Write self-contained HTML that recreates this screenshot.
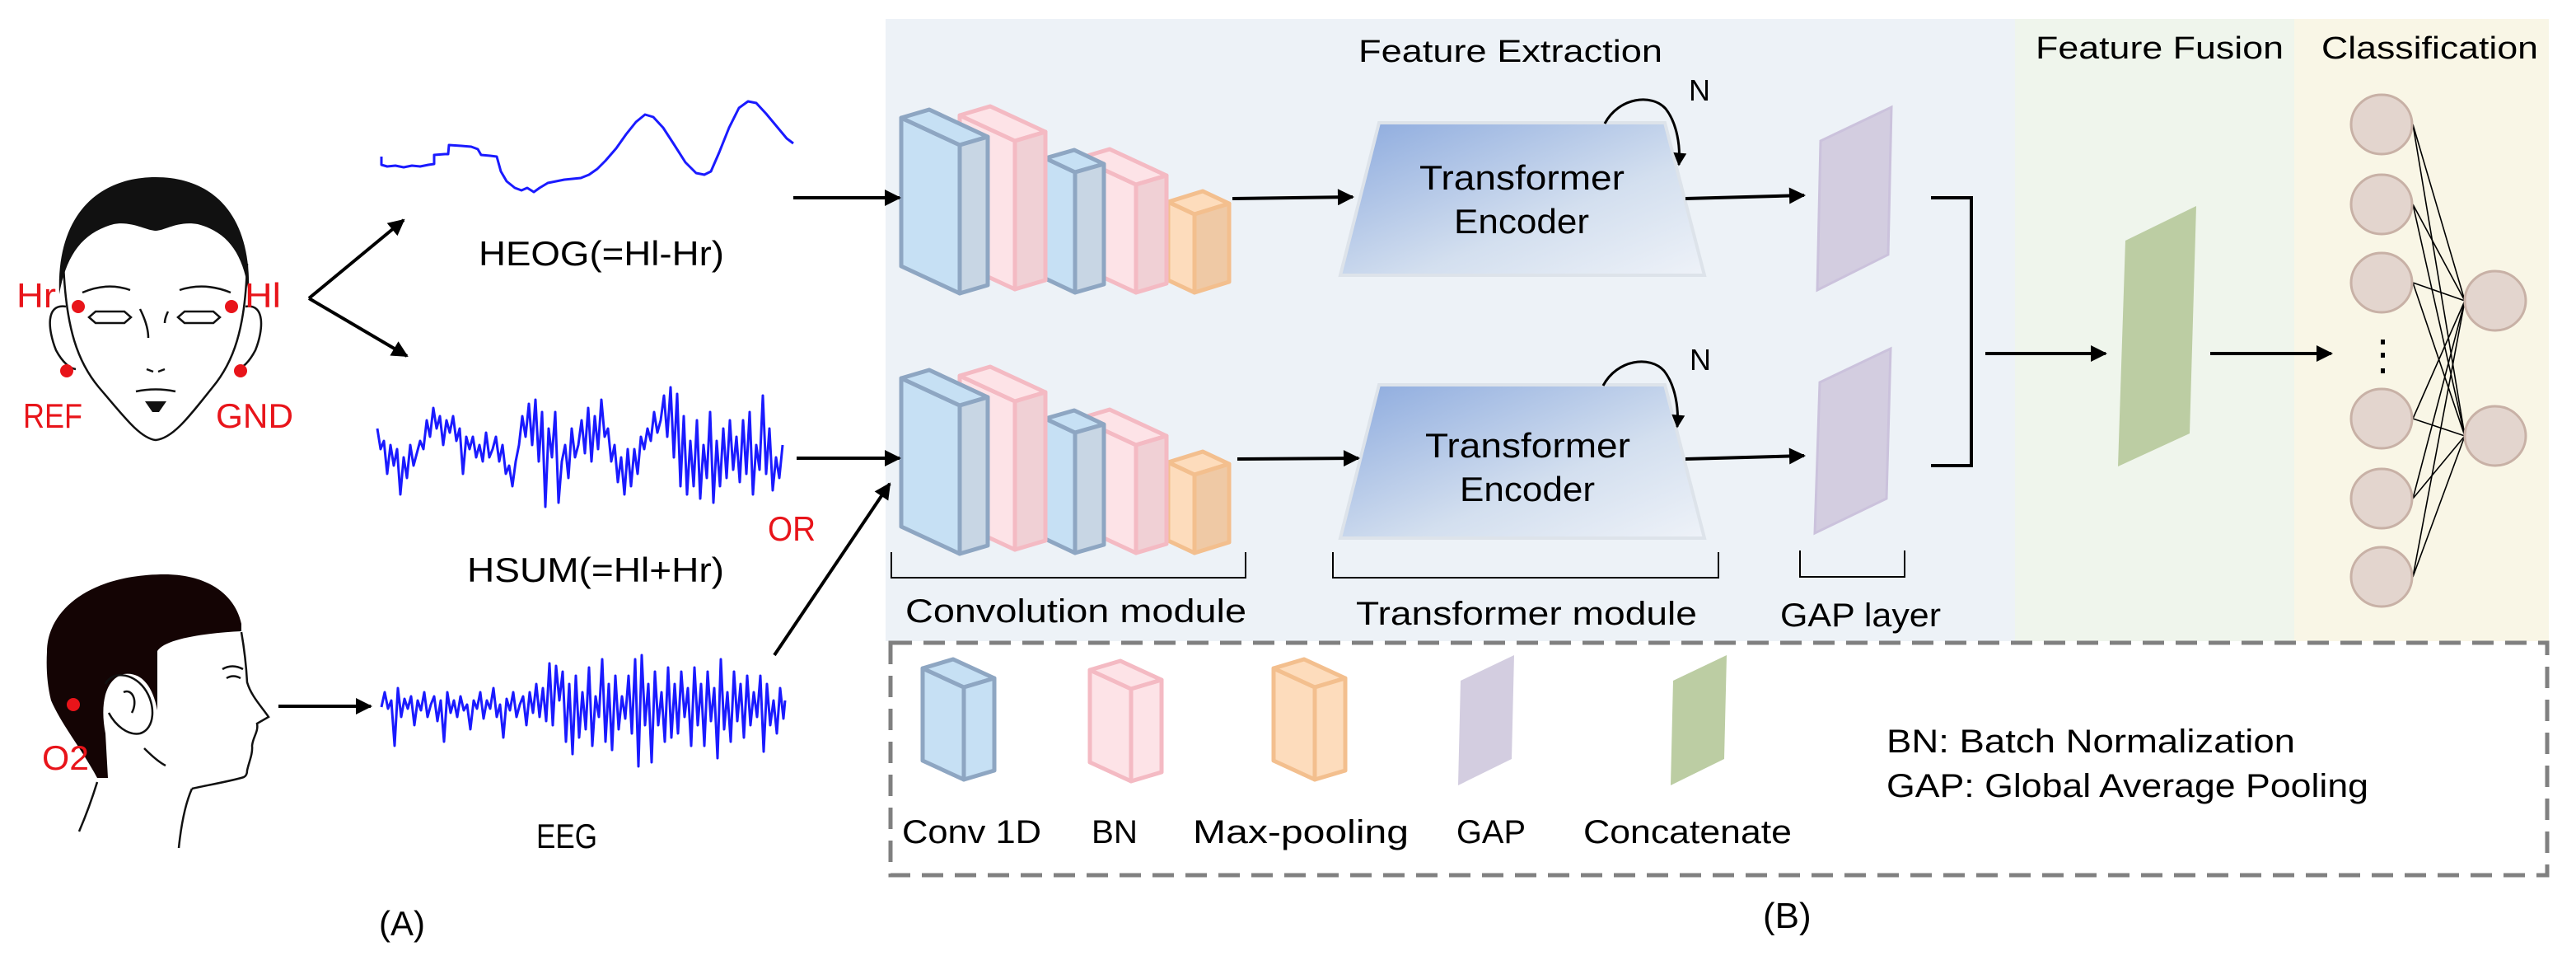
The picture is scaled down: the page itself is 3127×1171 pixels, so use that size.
<!DOCTYPE html>
<html><head><meta charset="utf-8"><style>
html,body{margin:0;padding:0;background:#fff}
svg{display:block}
text{font-family:"Liberation Sans",sans-serif}
</style></head><body>
<svg width="3127" height="1171" viewBox="0 0 3127 1171" xmlns="http://www.w3.org/2000/svg">
<defs>
<marker id="ah" viewBox="0 0 10 10" refX="9" refY="5" markerUnits="userSpaceOnUse" markerWidth="24" markerHeight="20" orient="auto"><path d="M0,0 L10,5 L0,10 Z" fill="#000"/></marker>
<marker id="ahs" viewBox="0 0 10 10" refX="9" refY="5" markerUnits="userSpaceOnUse" markerWidth="18" markerHeight="16" orient="auto"><path d="M0,0 L10,5 L0,10 Z" fill="#000"/></marker>
<linearGradient id="tg" x1="0" y1="0" x2="1" y2="1"><stop offset="0" stop-color="#8caade"/><stop offset="0.6" stop-color="#d3dfef"/><stop offset="1" stop-color="#eef2f8"/></linearGradient>
<g id="conv" stroke-linejoin="round" stroke-width="5">
 <g fill="#fddcbc" stroke="#f3bf8e"><polygon points="1418,245 1450,260 1450,355 1418,340"/><polygon points="1418,245 1460,232 1492,247 1450,260"/><polygon points="1450,260 1492,247 1492,342 1450,355" fill="#efc9a5"/></g>
 <g fill="#fde3e7" stroke="#f4bac3"><polygon points="1310,192 1379,224 1379,355 1310,323"/><polygon points="1310,192 1347,181 1416,213 1379,224"/><polygon points="1379,224 1416,213 1416,344 1379,355" fill="#f0d0d5"/></g>
 <g fill="#c6e0f4" stroke="#8ea6c2"><polygon points="1269,192 1305,209 1305,355 1269,338"/><polygon points="1269,192 1304,182 1340,199 1305,209"/><polygon points="1305,209 1340,199 1340,345 1305,355" fill="#c8d6e4"/></g>
 <g fill="#fde3e7" stroke="#f4bac3"><polygon points="1165,140 1232,171 1232,351 1165,320"/><polygon points="1165,140 1202,129 1269,160 1232,171"/><polygon points="1232,171 1269,160 1269,340 1232,351" fill="#f0d0d5"/></g>
 <g fill="#c6e0f4" stroke="#8ea6c2"><polygon points="1094,143 1165,176 1165,356 1094,323"/><polygon points="1094,143 1128,133 1199,166 1165,176"/><polygon points="1165,176 1199,166 1199,346 1165,356" fill="#c8d6e4"/></g>
</g>
<g id="lbox" stroke-linejoin="round" stroke-width="5"><polygon points="1120,811 1170,834 1170,946 1120,923"/><polygon points="1120,811 1157,800 1207,823 1170,834"/><polygon points="1170,834 1207,823 1207,935 1170,946"/></g>
</defs>

<rect x="1075" y="23" width="1371" height="755" fill="#edf2f7"/>
<rect x="2446" y="23" width="339" height="755" fill="#eff5ec"/>
<rect x="2785" y="23" width="309" height="755" fill="#f9f6e6"/>

<text x="1649" y="75" font-size="38" textLength="369" lengthAdjust="spacingAndGlyphs">Feature Extraction</text>
<text x="2471" y="71" font-size="38" textLength="301" lengthAdjust="spacingAndGlyphs">Feature  Fusion</text>
<text x="2818" y="71" font-size="38" textLength="263" lengthAdjust="spacingAndGlyphs">Classification</text>

<use href="#conv"/>
<use href="#conv" y="316"/>

<polygon points="1674,149 2021,149 2069,334 1627,334" fill="url(#tg)" stroke="#dde3ea" stroke-width="4"/>
<polygon points="1674,467 2021,467 2069,653 1627,653" fill="url(#tg)" stroke="#dde3ea" stroke-width="4"/>
<text x="1723" y="230" font-size="42" textLength="249" lengthAdjust="spacingAndGlyphs">Transformer</text>
<text x="1765" y="283" font-size="42" textLength="164" lengthAdjust="spacingAndGlyphs">Encoder</text>
<text x="1730" y="555" font-size="42" textLength="249" lengthAdjust="spacingAndGlyphs">Transformer</text>
<text x="1772" y="608" font-size="42" textLength="164" lengthAdjust="spacingAndGlyphs">Encoder</text>
<path d="M1948,150 C1965,118 2005,113 2022,132 C2036,150 2040,178 2038,200" fill="none" stroke="#000" stroke-width="3" marker-end="url(#ahs)"/>
<path d="M1946,468 C1963,436 2003,431 2020,450 C2034,468 2038,496 2036,518" fill="none" stroke="#000" stroke-width="3" marker-end="url(#ahs)"/>
<text x="2050" y="122" font-size="36" font-family="Liberation Serif,serif">N</text>
<text x="2051" y="449" font-size="36" font-family="Liberation Serif,serif">N</text>

<polygon points="2210,171 2296,130 2292,309 2206,352" fill="#d3cde0" stroke="#cbc2dc" stroke-width="3"/>
<polygon points="2209,464 2295,423 2290,605 2203,647" fill="#d3cde0" stroke="#cbc2dc" stroke-width="3"/>
<path d="M2344,240 H2393 V565 H2344" fill="none" stroke="#000" stroke-width="4"/>
<polygon points="2580,292 2666,250 2658,526 2571,566" fill="#bccda3"/>

<g stroke="#000" stroke-width="1.6">
<line x1="2929" y1="151" x2="2992" y2="365"/><line x1="2929" y1="151" x2="2992" y2="529"/>
<line x1="2929" y1="248" x2="2992" y2="365"/><line x1="2929" y1="248" x2="2992" y2="529"/>
<line x1="2929" y1="343" x2="2992" y2="365"/><line x1="2929" y1="343" x2="2992" y2="529"/>
<line x1="2929" y1="508" x2="2992" y2="365"/><line x1="2929" y1="508" x2="2992" y2="529"/>
<line x1="2929" y1="605" x2="2992" y2="365"/><line x1="2929" y1="605" x2="2992" y2="529"/>
<line x1="2929" y1="700" x2="2992" y2="365"/><line x1="2929" y1="700" x2="2992" y2="529"/>
</g>
<g fill="#e3d5ce" stroke="#c8b1a6" stroke-width="3">
<ellipse cx="2891" cy="151" rx="37" ry="36"/><ellipse cx="2891" cy="248" rx="37" ry="36"/><ellipse cx="2891" cy="343" rx="37" ry="36"/>
<ellipse cx="2891" cy="508" rx="37" ry="36"/><ellipse cx="2891" cy="605" rx="37" ry="36"/><ellipse cx="2891" cy="700" rx="37" ry="36"/>
<ellipse cx="3029" cy="365" rx="37" ry="36"/><ellipse cx="3029" cy="529" rx="37" ry="36"/>
</g>
<g fill="#000"><rect x="2890" y="412" width="5" height="6"/><rect x="2890" y="428" width="5" height="6"/><rect x="2890" y="447" width="5" height="6"/></g>

<g fill="none" stroke="#000" stroke-width="2">
<path d="M1082,670 V701 H1512 V670"/><path d="M1618,670 V701 H2086 V670"/><path d="M2185,668 V700 H2312 V668"/>
</g>
<text x="1099" y="755" font-size="40" textLength="414" lengthAdjust="spacingAndGlyphs">Convolution module</text>
<text x="1646" y="758" font-size="40" textLength="414" lengthAdjust="spacingAndGlyphs">Transformer module</text>
<text x="2161" y="760" font-size="40" textLength="195" lengthAdjust="spacingAndGlyphs">GAP layer</text>

<g stroke="#000" stroke-width="4" fill="none" marker-end="url(#ah)">
<line x1="375" y1="362" x2="490" y2="267"/>
<line x1="375" y1="362" x2="494" y2="432"/>
<line x1="338" y1="857" x2="450" y2="857"/>
<line x1="963" y1="240" x2="1092" y2="240"/>
<line x1="967" y1="556" x2="1092" y2="556"/>
<line x1="940" y1="795" x2="1080" y2="587"/>
<line x1="1496" y1="241" x2="1642" y2="239"/>
<line x1="1502" y1="557" x2="1649" y2="556"/>
<line x1="2046" y1="241" x2="2190" y2="237"/>
<line x1="2046" y1="557" x2="2190" y2="553"/>
<line x1="2410" y1="429" x2="2556" y2="429"/>
<line x1="2683" y1="429" x2="2830" y2="429"/>
</g>

<rect x="1081" y="780" width="2011" height="282" fill="none" stroke="#808080" stroke-width="5" stroke-dasharray="26 14"/>
<use href="#lbox" fill="#c6e0f4" stroke="#8ea6c2"/>
<use href="#lbox" x="203" y="2" fill="#fde3e7" stroke="#f4bac3"/>
<use href="#lbox" x="426" fill="#fddcbc" stroke="#f3bf8e"/>
<polygon points="1773,826 1838,795 1835,921 1770,953" fill="#d3cde0"/>
<polygon points="2031,826 2096,795 2093,921 2028,953" fill="#bccda3"/>
<g font-size="40">
<text x="1095" y="1023" textLength="169" lengthAdjust="spacingAndGlyphs">Conv 1D</text>
<text x="1325" y="1023" textLength="56" lengthAdjust="spacingAndGlyphs">BN</text>
<text x="1448" y="1023" textLength="262" lengthAdjust="spacingAndGlyphs">Max-pooling</text>
<text x="1768" y="1023" textLength="84" lengthAdjust="spacingAndGlyphs">GAP</text>
<text x="1922" y="1023" textLength="253" lengthAdjust="spacingAndGlyphs">Concatenate</text>
<text x="2290" y="913" textLength="496" lengthAdjust="spacingAndGlyphs">BN: Batch Normalization</text>
<text x="2290" y="967" textLength="585" lengthAdjust="spacingAndGlyphs">GAP: Global Average Pooling</text>
<text x="2140" y="1126" font-size="44">(B)</text>
</g>

<g fill="none" stroke="#1a1aff" stroke-width="3" stroke-linejoin="round">
<polyline points="463,190 463,200 470,202 480,201 490,203 500,201 510,202 520,200 527,199 527,188 540,187 544,187 545,176 560,177 572,178 580,181 584,188 595,189 603,190 608,208 615,220 625,228 633,231 640,228 648,233 655,228 665,222 675,220 685,218 695,217 705,216 715,212 725,205 735,195 748,180 760,163 772,148 783,139 793,142 805,155 818,175 832,197 845,210 855,212 863,208 873,185 885,155 897,131 908,123 918,125 930,138 945,156 955,168 963,174"/>
<polyline points="458,520 462,545 466,535 470,575 474,540 478,565 482,545 486,600 490,555 494,580 498,540 502,565 506,550 510,535 514,545 518,510 522,530 526,495 530,520 534,505 538,540 542,510 546,525 550,505 554,535 558,520 562,575 566,530 570,545 574,530 578,555 582,540 586,560 590,525 594,555 598,545 602,530 606,560 610,540 614,575 618,565 622,590 626,560 630,540 634,505 638,530 642,490 646,540 650,485 654,560 658,500 662,615 666,520 670,555 674,500 678,610 682,560 686,540 690,580 694,520 698,555 702,540 706,510 710,550 714,495 718,560 722,505 726,545 730,485 734,530 738,520 742,560 746,540 750,585 754,555 758,600 762,545 766,590 770,545 774,575 778,530 782,545 786,520 790,535 794,500 798,525 802,510 806,480 810,530 814,470 818,555 822,478 826,590 830,505 834,600 838,535 842,590 846,510 850,605 854,540 858,580 862,500 866,610 870,535 874,590 878,520 882,580 886,510 890,570 894,530 898,585 902,510 906,575 910,500 914,600 918,540 922,570 926,480 930,575 934,520 938,595 942,555 946,580 950,540"/>
<polyline points="463,858 467,840 471,860 475,850 479,905 483,835 487,870 491,848 495,860 499,845 503,880 507,850 511,862 515,840 519,870 523,855 527,845 531,875 535,850 539,900 543,840 547,865 551,850 555,870 559,845 563,862 567,855 571,885 575,850 579,860 583,840 587,872 591,850 595,860 599,835 603,870 607,855 611,895 615,848 619,862 623,840 627,870 631,855 635,845 639,880 643,840 647,865 651,830 655,870 659,835 663,875 667,805 671,880 675,808 679,850 683,815 687,900 691,830 695,915 699,820 703,895 707,840 711,885 715,810 719,905 723,845 727,870 731,800 735,900 739,830 743,910 747,820 751,885 755,845 759,872 763,820 767,890 771,800 775,930 779,795 783,880 787,830 791,925 795,815 799,880 803,840 807,900 811,810 815,895 819,830 823,890 827,815 831,870 835,835 839,905 843,810 847,880 851,830 855,905 859,815 863,875 867,835 871,920 875,800 879,885 883,840 887,900 891,815 895,875 899,830 903,895 907,820 911,880 915,840 919,870 923,820 927,912 931,830 935,880 939,850 943,890 947,835 951,872 953,850"/>
</g>
<g font-size="42">
<text x="581" y="322" textLength="298" lengthAdjust="spacingAndGlyphs">HEOG(=Hl-Hr)</text>
<text x="567" y="706" textLength="312" lengthAdjust="spacingAndGlyphs">HSUM(=Hl+Hr)</text>
<text x="651" y="1029" textLength="74" lengthAdjust="spacingAndGlyphs">EEG</text>
<text x="932" y="656" fill="#e8141a" textLength="58" lengthAdjust="spacingAndGlyphs">OR</text>
</g>
<text x="460" y="1135" font-size="42">(A)</text>

<g fill="none" stroke="#111" stroke-width="2.5">
<path d="M77,320 C80,400 95,440 120,470 C150,505 170,532 189,534 C210,532 230,505 258,470 C283,440 298,400 300,320"/>
<path d="M80,372 C55,368 58,400 68,425 C76,440 85,447 92,448"/>
<path d="M298,372 C322,368 320,400 310,425 C302,440 294,447 287,448"/>
<path d="M100,355 Q130,342 158,352"/><path d="M218,352 Q248,342 280,355"/>
<polygon points="108,385 116,378 151,378 159,385 151,392 116,392"/>
<polygon points="216,385 224,378 259,378 267,385 259,392 224,392"/>
<path d="M170,375 Q180,395 180,410"/><path d="M204,378 Q200,386 200,392"/>
<path d="M178,448 L186,451 M192,451 L200,448"/>
<path d="M165,475 Q189,470 213,475"/>
</g>
<path d="M72,357 C68,260 120,215 189,215 C258,215 306,260 302,357 C296,310 278,282 240,272 C215,268 200,280 189,280 C178,280 160,268 138,272 C100,282 80,310 72,357 Z" fill="#111"/>
<path d="M176,487 L202,487 L193,500 L185,500 Z" fill="#111"/>
<g fill="#e8141a">
<circle cx="95" cy="372" r="8"/><circle cx="281" cy="372" r="8"/><circle cx="81" cy="450" r="8"/><circle cx="292" cy="450" r="8"/>
</g>
<g fill="#e8141a" font-size="42">
<text x="20" y="373" textLength="48" lengthAdjust="spacingAndGlyphs">Hr</text>
<text x="297" y="373" textLength="44" lengthAdjust="spacingAndGlyphs">Hl</text>
<text x="28" y="519" textLength="72" lengthAdjust="spacingAndGlyphs">REF</text>
<text x="262" y="519" textLength="94" lengthAdjust="spacingAndGlyphs">GND</text>
</g>

<path d="M57,791 C57,740 110,697 200,697 C250,697 285,720 293,757 L293,766 C250,768 200,775 191,790 L191,862 C185,830 170,815 150,818 C125,825 122,860 128,890 L131,944 L118,944 C100,910 75,880 62,850 C57,830 56,810 57,791 Z" fill="#140404"/>
<circle cx="89" cy="855" r="8" fill="#e8141a"/>
<g fill="none" stroke="#111" stroke-width="2.5">
<path d="M293,767 C297,790 299,810 300,828 C305,845 318,858 326,870 L312,878 C314,888 307,894 306,905 C307,915 302,925 300,935 C300,940 298,942 296,943 C280,948 255,952 233,957"/>
<path d="M233,957 C225,975 220,1000 217,1029"/>
<path d="M118,949 C110,975 102,995 96,1009"/>
<path d="M175,908 C185,918 193,925 201,929"/>
<path d="M128,830 C135,815 160,815 175,835 C190,855 188,885 170,890 C155,893 140,880 132,865"/>
<path d="M150,840 C160,835 168,850 160,865"/>
<path d="M270,812 Q282,805 295,812"/>
<path d="M275,823 Q283,818 292,823"/>
</g>
<text x="51" y="934" fill="#e8141a" font-size="42" textLength="57" lengthAdjust="spacingAndGlyphs">O2</text>
</svg>
</body></html>
